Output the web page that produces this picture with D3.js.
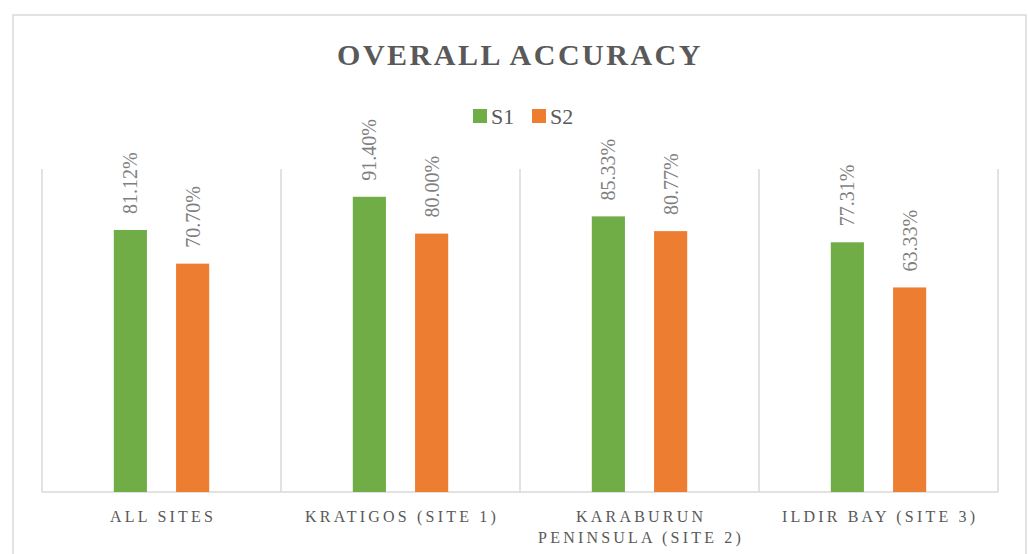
<!DOCTYPE html>
<html>
<head>
<meta charset="utf-8">
<script src="https://cdn.jsdelivr.net/npm/d3@7"></script>
<style>
  body { margin: 0; background: #fff; }
  text { font-family: "Palatino Linotype", "Book Antiqua", Palatino, "Liberation Serif", serif; }
</style>
</head>
<body>
<div id="chart"></div>
<script>
var categories = ["ALL SITES", "KRATIGOS (SITE 1)", "KARABURUN PENINSULA (SITE 2)", "ILDIR BAY (SITE 3)"];
var seriesNames = ["S1", "S2"];
var s1Values = [81.12, 91.40, 85.33, 77.31];
var s2Values = [70.70, 80.00, 80.77, 63.33];
var colors = { S1: "#70AD47", S2: "#ED7D31" };

var W = 1028, H = 554;
var plot = { left: 42, right: 998, top: 169, bottom: 492 };

var svg = d3.select("#chart")
  .append("svg")
  .attr("width", W)
  .attr("height", H);

// chart frame
svg.append("rect")
  .attr("x", 13).attr("y", 15)
  .attr("width", 1013).attr("height", 600)
  .attr("fill", "#fff")
  .attr("stroke", "#d9d9d9")
  .attr("stroke-width", 1.5);

var x0 = d3.scaleBand()
  .domain(categories)
  .range([plot.left, plot.right])
  .padding(0);

var x1 = d3.scaleBand()
  .domain(seriesNames)
  .range([0, x0.bandwidth()])
  .paddingInner(0.468)
  .paddingOuter(1.153);

var y = d3.scaleLinear()
  .domain([0, 100])
  .range([plot.bottom, plot.top]);

// vertical gridlines at category boundaries
var bounds = categories.map(function (c) { return x0(c); }).concat([plot.right]);
svg.append("g")
  .selectAll("line")
  .data(bounds)
  .enter()
  .append("line")
  .attr("x1", function (d) { return d; })
  .attr("x2", function (d) { return d; })
  .attr("y1", y(100))
  .attr("y2", y(0))
  .attr("stroke", "#d9d9d9")
  .attr("stroke-width", 1.5);

// baseline
svg.append("line")
  .attr("x1", plot.left).attr("x2", plot.right)
  .attr("y1", y(0)).attr("y2", y(0))
  .attr("stroke", "#d9d9d9")
  .attr("stroke-width", 1.5);

var rows = [];
categories.forEach(function (c, i) {
  rows.push({ cat: c, s: "S1", v: s1Values[i] });
  rows.push({ cat: c, s: "S2", v: s2Values[i] });
});

svg.append("g")
  .selectAll("rect")
  .data(rows)
  .enter()
  .append("rect")
  .attr("x", function (d) { return x0(d.cat) + x1(d.s); })
  .attr("y", function (d) { return y(d.v); })
  .attr("width", x1.bandwidth())
  .attr("height", function (d) { return y(0) - y(d.v); })
  .attr("fill", function (d) { return colors[d.s]; });

// rotated data labels
svg.append("g")
  .selectAll("text")
  .data(rows)
  .enter()
  .append("text")
  .attr("transform", function (d) {
    var cx = x0(d.cat) + x1(d.s) + x1.bandwidth() / 2;
    return "translate(" + cx + "," + (y(d.v) - 16) + ") rotate(-90)";
  })
  .attr("dy", "0.35em")
  .attr("text-anchor", "start")
  .style("font-size", "20px")
  .style("fill", "#7f7f7f")
  .text(function (d) { return d.v.toFixed(2) + "%"; });

// category labels, wrapped to band width
var catLabels = svg.append("g")
  .selectAll("text")
  .data(categories)
  .enter()
  .append("text")
  .attr("x", function (d) { return x0(d) + x0.bandwidth() / 2 + 1.6; })
  .attr("y", 522)
  .attr("text-anchor", "middle")
  .style("font-size", "16px")
  .style("letter-spacing", "3.2px")
  .style("fill", "#595959");

catLabels.each(function (d) {
  var el = d3.select(this);
  var words = d.split(" ");
  var lines = [], line = [];
  var probe = el.append("tspan");
  words.forEach(function (w) {
    var test = line.concat([w]).join(" ");
    probe.text(test);
    if (probe.node().getComputedTextLength() > x0.bandwidth() - 20 && line.length) {
      lines.push(line.join(" "));
      line = [w];
    } else {
      line.push(w);
    }
  });
  lines.push(line.join(" "));
  probe.remove();
  lines.forEach(function (l, i) {
    el.append("tspan")
      .attr("x", el.attr("x"))
      .attr("dy", i === 0 ? 0 : 21)
      .text(l);
  });
});

// title
svg.append("text")
  .attr("x", 520)
  .attr("y", 65)
  .attr("text-anchor", "middle")
  .style("font-size", "30px")
  .style("font-weight", "bold")
  .style("letter-spacing", "2.5px")
  .style("fill", "#595959")
  .text("OVERALL ACCURACY");

// legend
var legendX = [473, 532];
var legend = svg.append("g")
  .selectAll("g")
  .data(seriesNames)
  .enter()
  .append("g")
  .attr("transform", function (d, i) { return "translate(" + legendX[i] + ",109)"; });

legend.append("rect")
  .attr("width", 14).attr("height", 14)
  .attr("fill", function (d) { return colors[d]; });

legend.append("text")
  .attr("x", 18)
  .attr("y", 15)
  .style("font-size", "22px")
  .style("fill", "#595959")
  .text(function (d) { return d; });
</script>
</body>
</html>
